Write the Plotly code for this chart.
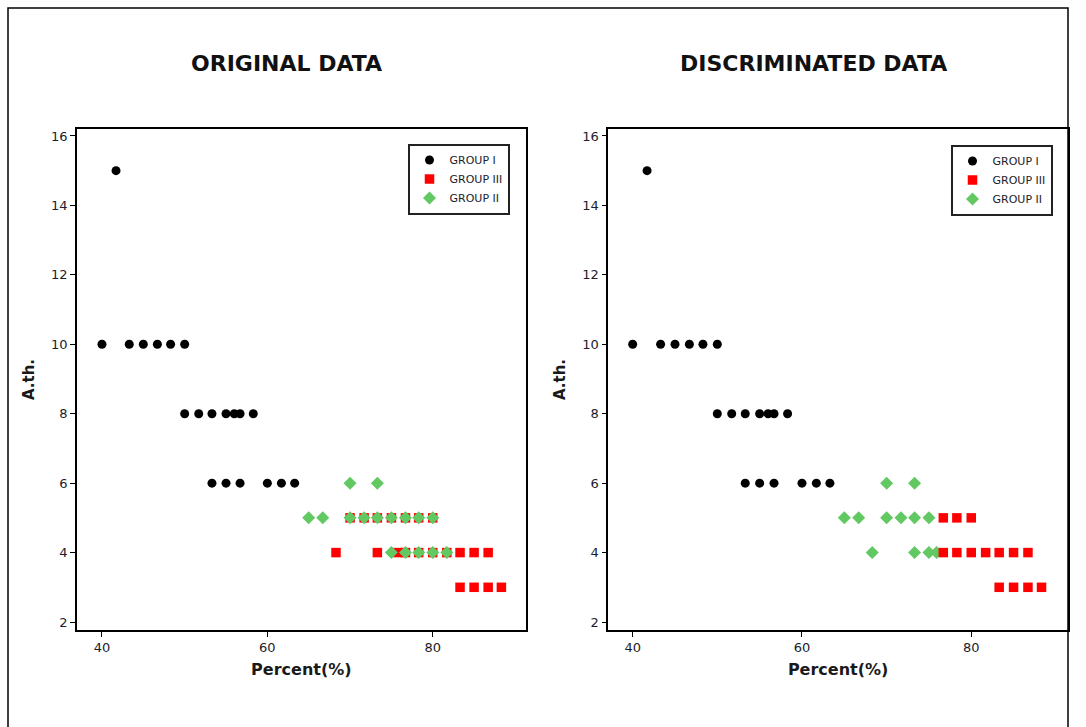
import plotly.graph_objects as go

# ---------------- data ----------------
# ORIGINAL DATA (left panel)
orig_g1_x = [41.7, 40, 43.3, 45, 46.7, 48.3, 50, 50, 51.7, 53.3, 55, 56.0, 56.7, 58.3,
             53.3, 55, 56.7, 60, 61.7, 63.3]
orig_g1_y = [15, 10, 10, 10, 10, 10, 10, 8, 8, 8, 8, 8, 8, 8, 6, 6, 6, 6, 6, 6]

orig_g3_x = [70, 71.7, 73.3, 75, 76.7, 78.3, 80,
             68.3, 73.3, 75.8, 76.7, 78.3, 80, 81.7, 83.3, 85, 86.7,
             83.3, 85, 86.7, 88.3]
orig_g3_y = [5, 5, 5, 5, 5, 5, 5,
             4, 4, 4, 4, 4, 4, 4, 4, 4, 4,
             3, 3, 3, 3]

orig_g2_x = [70, 73.3,
             65, 66.7, 70, 71.7, 73.3, 75, 76.7, 78.3, 80,
             75, 76.7, 78.3, 80, 81.7]
orig_g2_y = [6, 6,
             5, 5, 5, 5, 5, 5, 5, 5, 5,
             4, 4, 4, 4, 4]

# DISCRIMINATED DATA (right panel)
disc_g1_x = list(orig_g1_x)
disc_g1_y = list(orig_g1_y)

disc_g2_x = [70, 73.3,
             65, 66.7, 70, 71.7, 73.3, 75,
             68.3, 73.3, 75, 75.9]
disc_g2_y = [6, 6,
             5, 5, 5, 5, 5, 5,
             4, 4, 4, 4]

disc_g3_x = [76.7, 78.3, 80,
             76.7, 78.3, 80, 81.7, 83.3, 85, 86.7,
             83.3, 85, 86.7, 88.3]
disc_g3_y = [5, 5, 5,
             4, 4, 4, 4, 4, 4, 4,
             3, 3, 3, 3]

panel_titles = ["ORIGINAL DATA", "DISCRIMINATED DATA"]
x_title = "Percent(%)"
y_title = "A.th."
x_ticks = [40, 60, 80]
y_ticks = [2, 4, 6, 8, 10, 12, 14, 16]
group_names = ["GROUP I", "GROUP III", "GROUP II"]

# ---------------- styles ----------------
BLACK = "#000000"
RED = "#FF0000"
GREEN = "#62C862"
TICKFONT = dict(family="DejaVu Sans", size=13, color="#1c1c2c")

W, H = 1086, 727
ML, MR, MT, MB = 77, 18, 129, 97
PW = W - ML - MR
PH = H - MT - MB

def px_x(p):
    return (p - ML) / PW

def px_y(p):
    return (H - MB - p) / PH

fig = go.Figure()

g1 = dict(symbol="circle", size=9, color=BLACK)
g3 = dict(symbol="square", size=9.5, color=RED)
g2 = dict(symbol="diamond", size=10, color=GREEN)

# left panel: I, III, II (II on top)
fig.add_trace(go.Scatter(x=orig_g1_x, y=orig_g1_y, mode="markers", marker=g1,
                         name=group_names[0], xaxis="x", yaxis="y", legend="legend", legendrank=1))
fig.add_trace(go.Scatter(x=orig_g3_x, y=orig_g3_y, mode="markers", marker=g3,
                         name=group_names[1], xaxis="x", yaxis="y", legend="legend", legendrank=2))
fig.add_trace(go.Scatter(x=orig_g2_x, y=orig_g2_y, mode="markers", marker=g2,
                         name=group_names[2], xaxis="x", yaxis="y", legend="legend", legendrank=3))

# right panel: I, II, III (III on top), legend order I, III, II
fig.add_trace(go.Scatter(x=disc_g1_x, y=disc_g1_y, mode="markers", marker=g1,
                         name=group_names[0], xaxis="x2", yaxis="y2", legend="legend2", legendrank=1))
fig.add_trace(go.Scatter(x=disc_g2_x, y=disc_g2_y, mode="markers", marker=g2,
                         name=group_names[2], xaxis="x2", yaxis="y2", legend="legend2", legendrank=3))
fig.add_trace(go.Scatter(x=disc_g3_x, y=disc_g3_y, mode="markers", marker=g3,
                         name=group_names[1], xaxis="x2", yaxis="y2", legend="legend2", legendrank=2))

xdom1 = [0, px_x(525.7)]
xdom2 = [px_x(608.3), 1]

axis_common = dict(showline=True, linecolor=BLACK, linewidth=1.6, mirror=True,
                   showgrid=False, zeroline=False, ticks="outside", ticklen=5,
                   tickwidth=1.2, tickcolor=BLACK, tickfont=TICKFONT)

xtitle = dict(text=x_title, font=dict(family="DejaVu Sans", size=16, color="#1a1a1a", weight="bold"), standoff=9)
ytitle = dict(text=y_title, font=dict(family="DejaVu Sans", size=15, color="#1a1a1a", weight="bold"), standoff=13)

legend_font = dict(family="DejaVu Sans", size=11, color="#1c1c2c")

fig.update_layout(
    width=W, height=H,
    margin=dict(l=ML, r=MR, t=MT, b=MB, autoexpand=False),
    paper_bgcolor="white", plot_bgcolor="white",
    xaxis=dict(domain=xdom1, range=[36.98, 91.24], tickvals=x_ticks, anchor="y", title=xtitle, **axis_common),
    yaxis=dict(domain=[0, 1], range=[1.77, 16.2], tickvals=y_ticks, anchor="x", title=ytitle, **axis_common),
    xaxis2=dict(domain=xdom2, range=[37.12, 91.43], tickvals=x_ticks, anchor="y2", title=xtitle, **axis_common),
    yaxis2=dict(domain=[0, 1], range=[1.77, 16.2], tickvals=y_ticks, anchor="x2", title=ytitle, **axis_common),
    legend=dict(x=px_x(509.5), xanchor="right", y=px_y(143.5), yanchor="top",
                bordercolor="#222222", borderwidth=2, bgcolor="white",
                font=legend_font, itemwidth=30, tracegroupgap=0),
    legend2=dict(x=px_x(1052.5), xanchor="right", y=px_y(144.5), yanchor="top",
                 bordercolor="#222222", borderwidth=2, bgcolor="white",
                 font=legend_font, itemwidth=30, tracegroupgap=0),
    showlegend=True,
)

title_font = dict(family="DejaVu Sans", size=22, color="#111111", weight="bold")
fig.add_annotation(text=panel_titles[0], xref="paper", yref="paper", x=px_x(286), y=px_y(63),
                   xanchor="center", yanchor="middle", showarrow=False, font=title_font)
fig.add_annotation(text=panel_titles[1], xref="paper", yref="paper", x=px_x(813.5), y=px_y(63),
                   xanchor="center", yanchor="middle", showarrow=False, font=title_font)

# outer frame
fig.add_shape(type="rect", xref="paper", yref="paper",
              x0=px_x(8), x1=px_x(1068), y0=px_y(760), y1=px_y(8),
              line=dict(color=BLACK, width=1.5), fillcolor="rgba(0,0,0,0)", layer="above")

fig.write_html("out.html")
